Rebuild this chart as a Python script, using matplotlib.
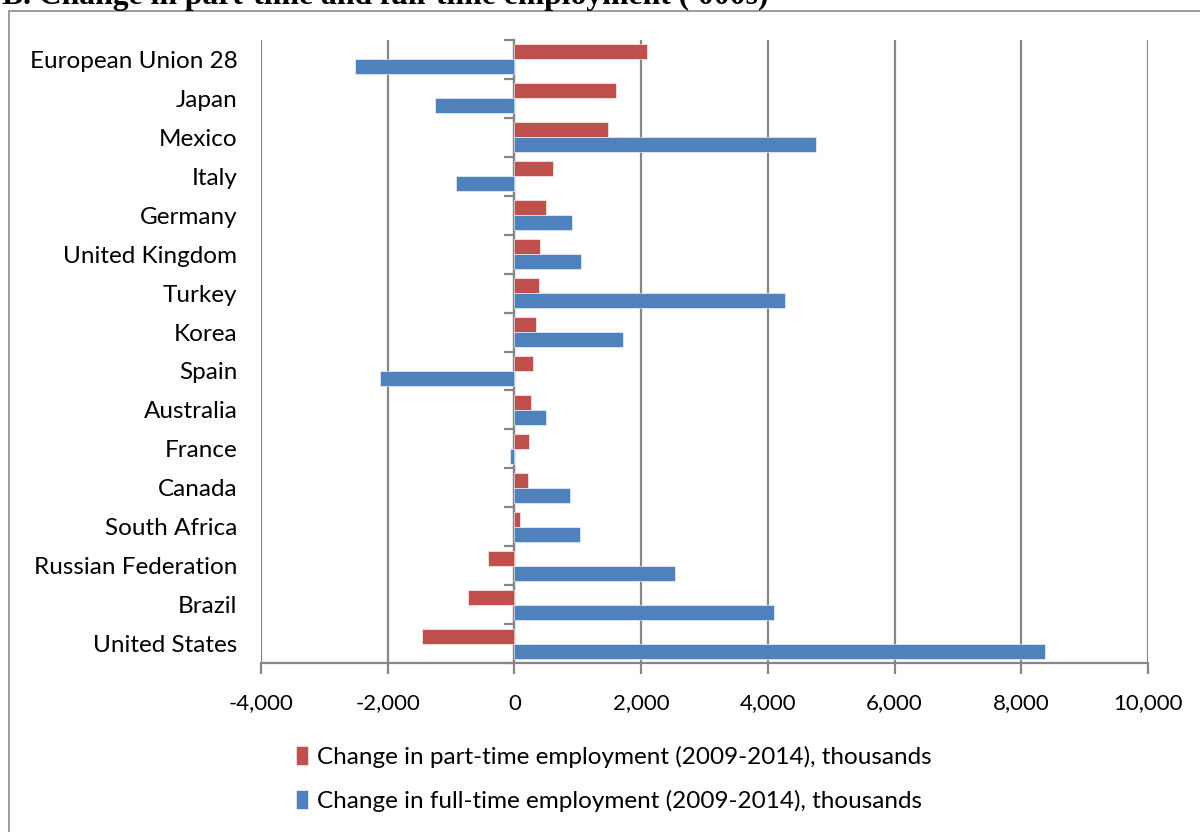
import matplotlib
matplotlib.use("Agg")
import matplotlib.pyplot as plt
from matplotlib.patches import Rectangle
from matplotlib.ticker import FuncFormatter
import numpy as np

COUNTRIES = ["European Union 28", "Japan", "Mexico", "Italy", "Germany",
             "United Kingdom", "Turkey", "Korea", "Spain", "Australia",
             "France", "Canada", "South Africa", "Russian Federation",
             "Brazil", "United States"]
PART_TIME = [2085, 1600, 1477, 601, 505, 410, 395, 347, 300, 265,
             232, 211, 84, -411, -733, -1455]
FULL_TIME = [-2510, -1251, 4756, -919, 915, 1058, 4278, 1720, -2115, 505,
             -68, 870, 1038, 2541, 4104, 8382]
X_TICKS = [-4000, -2000, 0, 2000, 4000, 6000, 8000, 10000]

RED = "#C0504D"
BLUE = "#4F81BD"
GRID = "#868686"
FONT = "Lato"

W, H = 1200, 832
fig = plt.figure(figsize=(W / 100, H / 100), dpi=100)
ax = fig.add_axes([261 / W, 1 - 663 / H, (1148 - 261) / W, (663 - 40) / H])

y = np.arange(len(COUNTRIES))
bh = 0.385
ax.barh(y - bh / 2, PART_TIME, height=bh, color=RED, edgecolor="white",
        linewidth=0.4, label="Change in part-time employment (2009-2014), thousands", zorder=3)
ax.barh(y + bh / 2, FULL_TIME, height=bh, color=BLUE, edgecolor="white",
        linewidth=0.4, label="Change in full-time employment (2009-2014), thousands", zorder=3)

ax.set_xlim(X_TICKS[0], X_TICKS[-1])
ax.set_ylim(len(COUNTRIES) - 0.5, -0.5)
ax.set_xticks(X_TICKS)
ax.xaxis.set_major_formatter(FuncFormatter(lambda v, p: f"{int(v):,}"))
ax.grid(axis="x", color=GRID, linewidth=1.6, zorder=0)

for s in ["top", "right", "left"]:
    ax.spines[s].set_visible(False)
ax.spines["bottom"].set_color(GRID)
ax.spines["bottom"].set_linewidth(1.6)
ax.tick_params(axis="x", direction="out", length=8, width=1.6, color=GRID,
               labelsize=16, pad=14)
ax.set_yticks(y)
ax.set_yticklabels(COUNTRIES)
ax.tick_params(axis="y", length=0, labelsize=17.5, pad=17)
for lab in ax.get_xticklabels() + ax.get_yticklabels():
    lab.set_fontfamily(FONT)

# category axis at x = 0 with ticks between categories
x0 = (0 - X_TICKS[0]) / (X_TICKS[-1] - X_TICKS[0])
sec = ax.secondary_yaxis(x0)
sec.set_yticks(np.arange(len(COUNTRIES) + 1) - 0.5)
sec.set_yticklabels([])
sec.spines["left"].set_color(GRID)
sec.spines["left"].set_linewidth(1.6)
sec.tick_params(axis="y", direction="out", length=7, width=1.6, color=GRID)

leg = fig.legend(loc="center left", bbox_to_anchor=(274 / W, 1 - 779 / H),
                 frameon=False, handlelength=0.5, handleheight=0.85,
                 handletextpad=0.35, labelspacing=0.9,
                 prop={"family": FONT, "size": 17.5})

# outer border and clipped title
fig.add_artist(Rectangle((9 / W, -0.05), 1.1, 1.05 - 11 / H, transform=fig.transFigure,
                         fill=False, edgecolor="#8c8c8c", linewidth=1.2))
fig.text(2 / W, 1 - 4 / H, "B. Change in part-time and full-time employment ('000s)",
         family="Liberation Serif", weight="bold", fontsize=22.8, va="baseline", ha="left")

fig.savefig("out.png", dpi=100)
